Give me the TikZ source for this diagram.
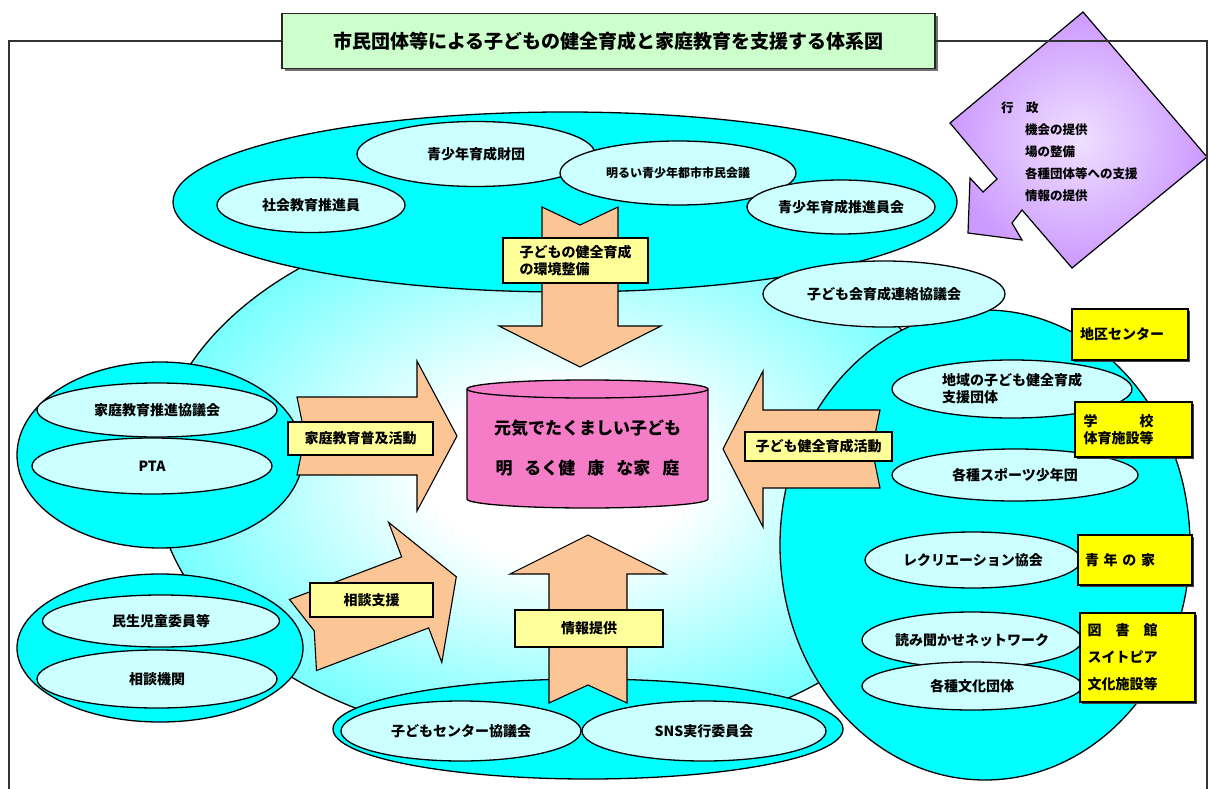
\documentclass[tikz,border=0pt]{standalone}
\usepackage{fontspec}
\setmainfont{Noto Sans CJK JP}
\usetikzlibrary{shapes.geometric,shadows}

\definecolor{aqua}{HTML}{00FFFF}
\definecolor{paleaqua}{HTML}{CCFFFF}
\definecolor{peach}{HTML}{FBC595}
\definecolor{cream}{HTML}{FFFF99}
\definecolor{lemon}{HTML}{FFFF00}
\definecolor{mint}{HTML}{CCFFCC}
\definecolor{rose}{HTML}{F57DC8}
\definecolor{lilac}{HTML}{CC99FF}

\pgfdeclareradialshading{pool}{\pgfpoint{0bp}{0bp}}{color(0bp)=(white); color(8bp)=(white); color(40bp)=(aqua); color(50bp)=(aqua)}

\newcommand{\lbl}{\bfseries\fontsize{14}{17}\selectfont}
\newcommand{\smalllbl}{\bfseries\fontsize{12}{15}\selectfont}
\newcommand{\govfont}{\bfseries\fontsize{12.5}{22}\selectfont}

% block arrow: tail, angle, shaft length, shaft half width, head half width, head length, notch
\newcommand{\blockarrow}[7]{%
  \draw[arrowbody, shift={#1}, rotate=#2]
    (0,-#4) -- (#3,-#4) -- (#3,-#5) -- (#3+#6,0) -- (#3,#5) -- (#3,#4) -- (0,#4) -- (#7,0) -- cycle;
}

\tikzset{
  rim/.style={draw=black, line width=1.3pt},
  ring/.style={ellipse, rim, fill=aqua, inner sep=0pt},
  member/.style={ellipse, rim, fill=paleaqua, inner sep=0pt, font=\lbl},
  tag/.style={rectangle, draw=black, line width=1.1pt, fill=cream, inner sep=0pt, font=\lbl},
  facility/.style={rectangle, draw=black, line width=1.1pt, fill=lemon, inner sep=0pt, font=\lbl,
    drop shadow={shadow xshift=2pt, shadow yshift=-2pt, fill=black!75, opacity=1}},
  arrowbody/.style={rim, line width=1.1pt, fill=peach, line join=miter},
  titlebox/.style={rectangle, draw=black!85, line width=1.3pt, fill=mint, inner sep=0pt,
    font=\bfseries\fontsize{19}{22}\selectfont,
    drop shadow={shadow xshift=3pt, shadow yshift=-3pt, fill=black!55, opacity=1}},
  frame/.style={draw=black!80, line width=1.3pt},
  govtext/.style={inner sep=0pt, font=\govfont, align=left},
}

\begin{document}
\begin{tikzpicture}[x=1pt,y=-1pt]
\useasboundingbox (0,0) rectangle (1212,789);
\fill[white] (0,0) rectangle (1212,789);

%Hintergrund
\shadedraw[rim, shading=pool] (560,475) ellipse [x radius=405, y radius=270];

%Oben
\node[ring, minimum width=784, minimum height=180] (youth) at (565,202) {};
\node[member, minimum width=188, minimum height=55] (shakai) at (311,205) {社会教育推進員};
\node[member, minimum width=238, minimum height=65] (zaidan) at (476,154) {青少年育成財団};
\node[member, minimum width=236, minimum height=64, font=\smalllbl] (kaigi) at (678,173) {明るい青少年都市市民会議};
\node[member, minimum width=188, minimum height=54] (suishin) at (841,207) {青少年育成推進員会};

%Links
\node[ring, minimum width=286, minimum height=186] (family) at (160,455) {};
\node[member, minimum width=240, minimum height=54] (katei) at (157,410) {家庭教育推進協議会};
\node[member, minimum width=240, minimum height=56] (pta) at (152,466) {PTA};
\node[ring, minimum width=286, minimum height=148] (advice) at (160,648) {};
\node[member, minimum width=237, minimum height=52] (minsei) at (161,621) {民生児童委員等};
\node[member, minimum width=240, minimum height=58] (soudan) at (157,679) {相談機関};

%Unten
\node[ring, minimum width=510, minimum height=100] (info) at (588,729) {};
\node[member, minimum width=240, minimum height=60] (center) at (461,731) {子どもセンター協議会};
\node[member, minimum width=244, minimum height=60] (sns) at (704,731) {SNS実行委員会};

%Rechts
\node[ring, minimum width=410, minimum height=470] (local) at (985,545) {};
\node[member, minimum width=242, minimum height=66] (kodomokai) at (884,294) {子ども会育成連絡協議会};
\node[member, minimum width=240, minimum height=58, align=left] (chiiki) at (1012,389) {地域の子ども健全育成\\支援団体};
\node[member, minimum width=246, minimum height=52] (sport) at (1015,475) {各種スポーツ少年団};
\node[member, minimum width=216, minimum height=56] (recre) at (973,560) {レクリエーション協会};
\node[member, minimum width=220, minimum height=56] (yomi) at (972,640) {読み聞かせネットワーク};
\node[member, minimum width=220, minimum height=48] (bunka) at (972,686) {各種文化団体};

%Pfeile
\blockarrow{(297,436)}{0}{120}{39}{75}{40}{8}
\blockarrow{(303,635)}{20.8}{120}{38}{75}{44}{12}
\blockarrow{(880,449)}{180}{117}{39}{78}{40}{8}
\blockarrow{(580,207)}{-90}{119}{38}{81}{41}{18}
\blockarrow{(588,703)}{90}{129}{39}{78}{39}{18}

%Ziel
\draw[rim, fill=rose] (467,389) -- (467,499) arc[start angle=180, end angle=0, x radius=120.5, y radius=9]
  -- (708,389) arc[start angle=0, end angle=-180, x radius=120.5, y radius=9] -- cycle;
\draw[rim] (467,389) arc[start angle=180, end angle=0, x radius=120.5, y radius=9];
\node[inner sep=0pt, align=center, font=\bfseries\fontsize{17}{40}\selectfont] (goal) at (587.5,448)
  {元気でたくましい子ども\\明\hspace{12pt}るく健\hspace{12pt}康\hspace{12pt}な家\hspace{12pt}庭};

%Beschriftungen
\node[tag, minimum width=145, minimum height=45, align=left] (kankyo) at (575.5,260.5) {子どもの健全育成\\の環境整備};
\node[tag, minimum width=145, minimum height=33] (fukyu) at (360.5,438.5) {家庭教育普及活動};
\node[tag, minimum width=123, minimum height=34] (shien) at (371.5,600) {相談支援};
\node[tag, minimum width=147, minimum height=29] (katsudo) at (818.5,446.5) {子ども健全育成活動};
\node[tag, minimum width=148, minimum height=37] (teikyo) at (589,628.5) {情報提供};

%Einrichtungen
\node[facility, minimum width=116, minimum height=51, text width=100, align=left] (chiku) at (1130,334.5) {地区センター};
\node[facility, minimum width=117, minimum height=55, text width=100, align=left] (gakko) at (1133.5,429.5)
  {\makebox[70pt][l]{学\hfill 校}\\体育施設等};
\node[facility, minimum width=114, minimum height=50, text width=100, align=left] (seinen) at (1135,560)
  {\makebox[70pt][l]{青\hfill 年\hfill の\hfill 家}};
\node[facility, minimum width=115, minimum height=89, text width=100, align=left, font=\bfseries\fontsize{14}{27}\selectfont] (toshokan) at (1137.5,657.5)
  {\makebox[70pt][l]{図\hfill 書\hfill 館}\\スイトピア\\文化施設等};

%Verwaltung
\draw[rim, line width=1.2pt, inner color=lilac!30!white, outer color=lilac]
  (1083,12) -- (1207,157) -- (1072,268) -- (1022,210) -- (1012,223) -- (1022,240) -- (968,233)
  -- (970,178) -- (983,192) -- (997,179) -- (950,123) -- cycle;
\node[govtext, anchor=west] (gyosei) at (1001,108) {行　政};
\node[govtext, anchor=north west] (yakuwari) at (1025,124) {機会の提供\\場の整備\\各種団体等への支援\\情報の提供};

%Titel
\node[titlebox, minimum width=653, minimum height=55] (title) at (608.5,41)
  {市民団体等による子どもの健全育成と家庭教育を支援する体系図};
\coordinate (fl) at (9,789);
\coordinate (fr) at (1207,789);
\draw[frame] (fl) |- (title.west);
\draw[frame] (title.east) -| (fr);
\end{tikzpicture}
\end{document}
